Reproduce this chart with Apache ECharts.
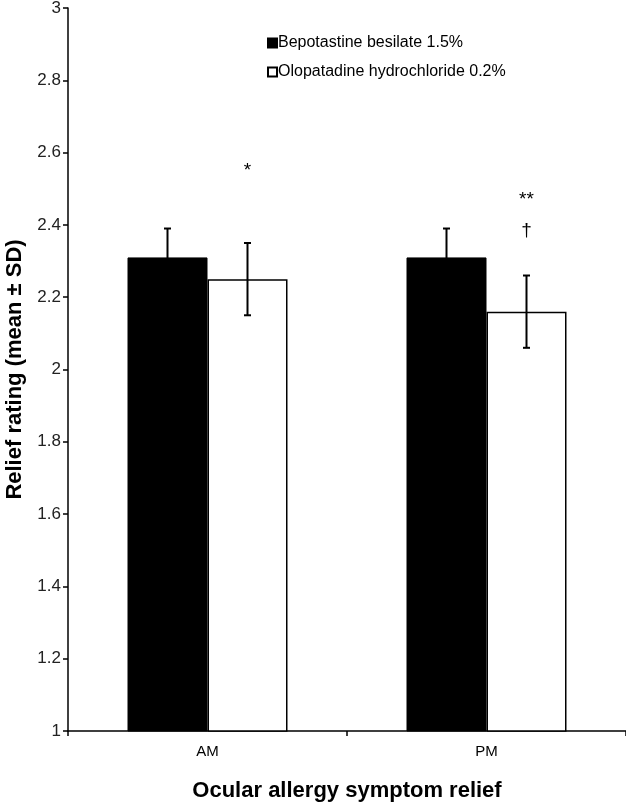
<!DOCTYPE html>
<html>
<head>
<meta charset="utf-8">
<script src="https://cdn.jsdelivr.net/npm/echarts@6/dist/echarts.min.js"></script>
<style>
  html, body { margin: 0; padding: 0; background: #fff; }
  #chart { width: 626px; height: 804px; }
</style>
</head>
<body>
<div id="chart"></div>
<script>
  // data
  var categories = ['AM', 'PM'];
  var bepotastine = [2.31, 2.31];
  var bepotastineSD = [0.08, 0.08];
  var olopatadine = [2.25, 2.16];
  var olopatadineSD = [0.1, 0.1];
  // significance marks above the olopatadine bars: [category, y, text]
  var marks = [[0, 2.55, '*'], [1, 2.47, '**'], [1, 2.385, '†']];

  var fontFamily = '"Liberation Sans", Arial, sans-serif';
  var barW = 80;

  var errData = [];
  for (var i = 0; i < categories.length; i++) {
    errData.push([i, bepotastine[i], bepotastineSD[i], -1]);
    errData.push([i, olopatadine[i], olopatadineSD[i], 1]);
  }

  var chart = echarts.init(document.getElementById('chart'));

  chart.setOption({
    animation: false,
    textStyle: { fontFamily: fontFamily, color: '#000' },
    grid: { left: 68, right: 0, top: 8, bottom: 73, outerBoundsMode: 'none', containLabel: false },
    legend: {
      orient: 'vertical',
      left: 262,
      top: 30,
      itemWidth: 9,
      itemHeight: 9,
      itemGap: 13,
      icon: 'rect',
      textStyle: { fontSize: 16, color: '#000', fontFamily: fontFamily, padding: [0, 0, 0, -4] },
      data: ['Bepotastine besilate 1.5%', 'Olopatadine hydrochloride 0.2%']
    },
    xAxis: {
      type: 'category',
      data: categories,
      name: 'Ocular allergy symptom relief',
      nameLocation: 'middle',
      nameGap: 49,
      nameTextStyle: { fontSize: 22, fontWeight: 'bold', color: '#000' },
      axisLine: { lineStyle: { color: '#000', width: 1.5 } },
      axisTick: { show: true, length: 5, lineStyle: { color: '#000', width: 1.5 } },
      axisLabel: { fontSize: 15, color: '#000', margin: 13 }
    },
    yAxis: {
      type: 'value',
      min: 1,
      max: 3,
      interval: 0.2,
      name: 'Relief rating (mean ± SD)',
      nameLocation: 'middle',
      nameGap: 42,
      nameTextStyle: { fontSize: 22, fontWeight: 'bold', color: '#000' },
      axisLine: { show: true, lineStyle: { color: '#000', width: 1.5 } },
      axisTick: { show: true, length: 5, lineStyle: { color: '#000', width: 1.5 } },
      axisLabel: { fontSize: 17, color: '#222', margin: 7 },
      splitLine: { show: false }
    },
    series: [
      {
        name: 'Bepotastine besilate 1.5%',
        type: 'bar',
        data: bepotastine,
        barWidth: barW,
        barGap: '0%',
        itemStyle: { color: '#000', borderColor: '#000', borderWidth: 1 }
      },
      {
        name: 'Olopatadine hydrochloride 0.2%',
        type: 'bar',
        data: olopatadine,
        barWidth: barW,
        barGap: '0%',
        itemStyle: { color: '#fff', borderColor: '#000', borderWidth: 1.5 }
      },
      {
        // error bars
        type: 'custom',
        data: errData,
        z: 10,
        renderItem: function (params, api) {
          var x = api.coord([api.value(0), api.value(1)])[0] + api.value(3) * barW / 2;
          var top = api.coord([api.value(0), api.value(1) + api.value(2)])[1];
          var bot = api.coord([api.value(0), api.value(1) - api.value(2)])[1];
          var cap = 3.5;
          var style = { stroke: '#000', lineWidth: 2 };
          return {
            type: 'group',
            children: [
              { type: 'line', shape: { x1: x, y1: top, x2: x, y2: bot }, style: style },
              { type: 'line', shape: { x1: x - cap, y1: top, x2: x + cap, y2: top }, style: style },
              { type: 'line', shape: { x1: x - cap, y1: bot, x2: x + cap, y2: bot }, style: style }
            ]
          };
        }
      },
      {
        // significance marks
        type: 'custom',
        data: marks,
        z: 10,
        renderItem: function (params, api) {
          var p = api.coord([api.value(0), api.value(1)]);
          return {
            type: 'text',
            x: p[0] + barW / 2,
            y: p[1],
            style: {
              text: marks[params.dataIndex][2],
              fontSize: 19,
              fontFamily: fontFamily,
              fill: '#000',
              align: 'center',
              verticalAlign: 'middle'
            }
          };
        }
      }
    ]
  });
</script>
</body>
</html>
